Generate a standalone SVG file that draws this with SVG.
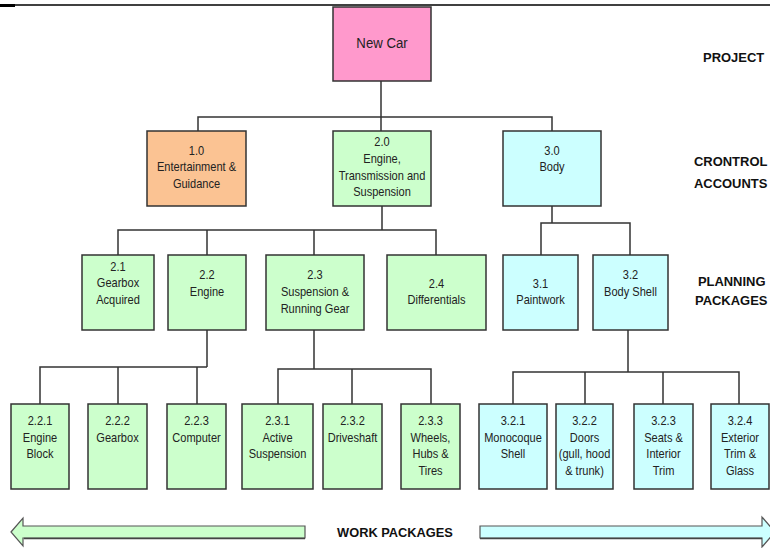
<svg xmlns="http://www.w3.org/2000/svg" width="770" height="548" viewBox="0 0 770 548">
<style>
.box{stroke:#333;stroke-width:1.5}
.pink{fill:#FF99CC}.orange{fill:#FBC393}.green{fill:#CCFFCC}.cyan{fill:#CCFFFF}
.t{font-family:"Liberation Sans",Arial,sans-serif;font-size:13px;fill:#222;text-anchor:middle}
.big{font-family:"Liberation Sans",Arial,sans-serif;font-size:15px;fill:#222;text-anchor:middle}
.lbl{font-family:"Liberation Sans",Arial,sans-serif;font-size:13.5px;font-weight:bold;fill:#111}
.c{fill:none;stroke:#333;stroke-width:1.5}
.arr{stroke:#555;stroke-width:1.2}
</style>
<line x1="0" y1="5" x2="770" y2="5" stroke="#000" stroke-width="1.5"/>
<line x1="0" y1="5.5" x2="15" y2="5.5" stroke="#000" stroke-width="3"/>
<g id="connectors">
<path class="c" d="M381 81V117M198 131V117H552V131M381 117V131"/>
<path class="c" d="M382 206V230M118 255V230H436V255M207 230V255M314 230V255"/>
<path class="c" d="M552 206V223M541 255V223H630V255"/>
<path class="c" d="M207 330V367M40 404V367H207M118 367V404M197 367V404"/>
<path class="c" d="M314 330V369M278 404V369H431V404M352 369V404"/>
<path class="c" d="M628 330V372M513 404V372H739V404M585 372V404M663 372V404"/>
</g>
<g id="n-newcar"><rect class="box pink" x="333" y="7" width="98" height="74"/><text class="big" transform="translate(382 0) scale(0.88 1)" x="0" y="48">New Car</text></g>
<g id="n-1-0"><rect class="box orange" x="147" y="131" width="99" height="75"/><text class="t" transform="translate(196.5 0) scale(0.85 1)"><tspan x="0" y="155.5">1.0</tspan><tspan x="0" y="171.5">Entertainment &amp;</tspan><tspan x="0" y="188.5">Guidance</tspan></text></g>
<g id="n-2-0"><rect class="box green" x="333" y="131" width="98" height="75"/><text class="t" transform="translate(382 0) scale(0.85 1)"><tspan x="0" y="146.5">2.0</tspan><tspan x="0" y="163.5">Engine,</tspan><tspan x="0" y="180.5">Transmission and</tspan><tspan x="0" y="196.5">Suspension</tspan></text></g>
<g id="n-3-0"><rect class="box cyan" x="503" y="131" width="98" height="75"/><text class="t" transform="translate(552 0) scale(0.85 1)"><tspan x="0" y="155.5">3.0</tspan><tspan x="0" y="171.5">Body</tspan></text></g>
<g id="n-2-1"><rect class="box green" x="82" y="255" width="72" height="75"/><text class="t" transform="translate(118 0) scale(0.85 1)"><tspan x="0" y="271.5">2.1</tspan><tspan x="0" y="287.5">Gearbox</tspan><tspan x="0" y="304.5">Acquired</tspan></text></g>
<g id="n-2-2"><rect class="box green" x="168" y="255" width="78" height="75"/><text class="t" transform="translate(207 0) scale(0.85 1)"><tspan x="0" y="279.5">2.2</tspan><tspan x="0" y="296.5">Engine</tspan></text></g>
<g id="n-2-3"><rect class="box green" x="266" y="255" width="98" height="75"/><text class="t" transform="translate(315 0) scale(0.85 1)"><tspan x="0" y="279.5">2.3</tspan><tspan x="0" y="296.5">Suspension &amp;</tspan><tspan x="0" y="313.5">Running Gear</tspan></text></g>
<g id="n-2-4"><rect class="box green" x="387" y="255" width="99" height="75"/><text class="t" transform="translate(436.5 0) scale(0.85 1)"><tspan x="0" y="288.5">2.4</tspan><tspan x="0" y="304.5">Differentials</tspan></text></g>
<g id="n-3-1"><rect class="box cyan" x="503" y="255" width="75" height="75"/><text class="t" transform="translate(540.5 0) scale(0.85 1)"><tspan x="0" y="288.5">3.1</tspan><tspan x="0" y="304.5">Paintwork</tspan></text></g>
<g id="n-3-2"><rect class="box cyan" x="593" y="255" width="75" height="75"/><text class="t" transform="translate(630.5 0) scale(0.85 1)"><tspan x="0" y="279.5">3.2</tspan><tspan x="0" y="296.5">Body Shell</tspan></text></g>
<g id="n-2-2-1"><rect class="box green" x="11" y="404" width="58" height="85"/><text class="t" transform="translate(40 0) scale(0.85 1)"><tspan x="0" y="425.5">2.2.1</tspan><tspan x="0" y="442.5">Engine</tspan><tspan x="0" y="458.5">Block</tspan></text></g>
<g id="n-2-2-2"><rect class="box green" x="88" y="404" width="59" height="85"/><text class="t" transform="translate(117.5 0) scale(0.85 1)"><tspan x="0" y="425.5">2.2.2</tspan><tspan x="0" y="442.5">Gearbox</tspan></text></g>
<g id="n-2-2-3"><rect class="box green" x="167" y="404" width="59" height="85"/><text class="t" transform="translate(196.5 0) scale(0.85 1)"><tspan x="0" y="425.5">2.2.3</tspan><tspan x="0" y="442.5">Computer</tspan></text></g>
<g id="n-2-3-1"><rect class="box green" x="242" y="404" width="71" height="85"/><text class="t" transform="translate(277.5 0) scale(0.85 1)"><tspan x="0" y="425.5">2.3.1</tspan><tspan x="0" y="442.5">Active</tspan><tspan x="0" y="458.5">Suspension</tspan></text></g>
<g id="n-2-3-2"><rect class="box green" x="323" y="404" width="59" height="85"/><text class="t" transform="translate(352.5 0) scale(0.85 1)"><tspan x="0" y="425.5">2.3.2</tspan><tspan x="0" y="442.5">Driveshaft</tspan></text></g>
<g id="n-2-3-3"><rect class="box green" x="401" y="404" width="59" height="85"/><text class="t" transform="translate(430.5 0) scale(0.85 1)"><tspan x="0" y="425.5">2.3.3</tspan><tspan x="0" y="442.5">Wheels,</tspan><tspan x="0" y="458.5">Hubs &amp;</tspan><tspan x="0" y="475.5">Tires</tspan></text></g>
<g id="n-3-2-1"><rect class="box cyan" x="479" y="404" width="68" height="85"/><text class="t" transform="translate(513 0) scale(0.85 1)"><tspan x="0" y="425.5">3.2.1</tspan><tspan x="0" y="442.5">Monocoque</tspan><tspan x="0" y="458.5">Shell</tspan></text></g>
<g id="n-3-2-2"><rect class="box cyan" x="556" y="404" width="57" height="85"/><text class="t" transform="translate(584.5 0) scale(0.85 1)"><tspan x="0" y="425.5">3.2.2</tspan><tspan x="0" y="442.5">Doors</tspan><tspan x="0" y="458.5">(gull, hood</tspan><tspan x="0" y="475.5">&amp; trunk)</tspan></text></g>
<g id="n-3-2-3"><rect class="box cyan" x="634" y="404" width="59" height="85"/><text class="t" transform="translate(663.5 0) scale(0.85 1)"><tspan x="0" y="425.5">3.2.3</tspan><tspan x="0" y="442.5">Seats &amp;</tspan><tspan x="0" y="458.5">Interior</tspan><tspan x="0" y="475.5">Trim</tspan></text></g>
<g id="n-3-2-4"><rect class="box cyan" x="711" y="404" width="58" height="85"/><text class="t" transform="translate(740 0) scale(0.85 1)"><tspan x="0" y="425.5">3.2.4</tspan><tspan x="0" y="442.5">Exterior</tspan><tspan x="0" y="458.5">Trim &amp;</tspan><tspan x="0" y="475.5">Glass</tspan></text></g>
<g id="labels">
<text class="lbl" transform="translate(703 0) scale(0.96 1)" x="0" y="62">PROJECT</text>
<text class="lbl" transform="translate(694 0) scale(0.96 1)"><tspan x="0" y="166">CRONTROL</tspan><tspan x="0" y="188">ACCOUNTS</tspan></text>
<text class="lbl" transform="translate(695 0) scale(0.96 1)"><tspan x="3" y="286">PLANNING</tspan><tspan x="0" y="305">PACKAGES</tspan></text>
</g>
<g id="work-packages">
<polygon class="arr" fill="#CCFFCC" points="11,532 23,518 23,526 305,526 305,538 23,538 23,546"/>
<polygon class="arr" fill="#CCFFFF" points="480,526 762,526 762,517 775,532 762,547 762,538 480,538"/>
<line x1="24" y1="538.5" x2="305" y2="538.5" stroke="#444" stroke-width="1.5"/>
<line x1="480" y1="538.5" x2="762" y2="538.5" stroke="#444" stroke-width="1.5"/>
<text class="lbl" transform="translate(395 0) scale(0.95 1)" x="0" y="537" font-size="15" text-anchor="middle">WORK PACKAGES</text>
</g>
</svg>
